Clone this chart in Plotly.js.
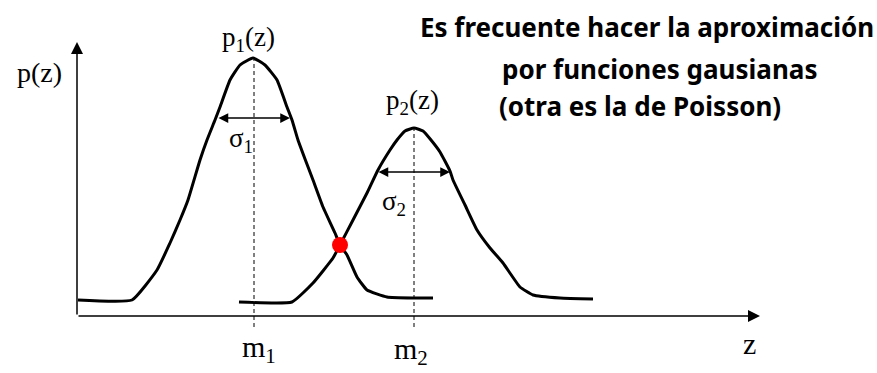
<!DOCTYPE html>
<html>
<head>
<meta charset="utf-8">
<script src="https://cdn.plot.ly/plotly-3.0.1.min.js"></script>
<style>
  html, body { margin: 0; padding: 0; background: #ffffff; }
  #chart { width: 877px; height: 373px; }
</style>
</head>
<body>
<div id="chart"></div>
<script>
// Two class-conditional densities p1(z) and p2(z), sketched as bell curves
// (z measured from the vertical axis, p upward from the horizontal axis).
const z1 = [1, 55, 80, 93, 103, 111, 123, 130, 138, 143, 153, 163, 176, 188, 200, 210, 215, 221, 228, 236, 246, 258, 263, 270, 280, 290, 310, 336, 356];
const p1 = [16, 16, 46, 73, 96, 116, 156, 176, 196, 209, 236, 251, 258, 251, 236, 209, 196, 176, 157, 136, 109, 83, 71, 61, 39, 26, 19, 18, 18];

const z2 = [162, 215, 236, 256, 263, 276, 290, 301, 313, 320, 328, 337, 346, 354, 363, 373, 376, 388, 400, 413, 426, 443, 456, 483, 516];
const p2 = [14, 14, 33, 58, 71, 96, 123, 146, 166, 176, 185, 188, 185, 176, 164, 145, 136, 111, 86, 68, 53, 29, 21, 18, 17];

// Means, peak heights, half-widths and the crossing point of the two curves
const means = [177, 337];
const peaks = [258, 188];
const sigmaLeft = [140, 300];
const sigmaRight = [213, 373];
const sigmaLevel = [198, 144];
const crossing = {z: [263], p: [71]};

// Extent of the drawn axes
const axisZ = [0, 683];
const axisP = [0, 274];

const serif = "Liberation Serif, Times New Roman, serif";
const sans = "Noto Sans, DejaVu Sans, sans-serif";

const curveLine = {color: "#000000", width: 3, shape: "spline", smoothing: 0.4};

const traces = [
  {x: z1, y: p1, type: "scatter", mode: "lines", line: curveLine, hoverinfo: "skip"},
  {x: z2, y: p2, type: "scatter", mode: "lines", line: curveLine, hoverinfo: "skip"},
  {x: crossing.z, y: crossing.p, type: "scatter", mode: "markers",
   marker: {color: "#ff0000", size: 16}, hoverinfo: "skip"}
];

const shapes = means.map((m, i) => ({
  type: "line", xref: "x", yref: "y",
  x0: m, x1: m, y0: -11, y1: peaks[i],
  line: {color: "#000000", width: 1, dash: "4px,3px"}
}));

function arrow(x, y, ax, ay, opts) {
  return Object.assign({
    x: x, y: y, ax: ax, ay: ay, xref: "x", yref: "y", axref: "x", ayref: "y",
    text: "", showarrow: true, arrowhead: 2, arrowcolor: "#000000"
  }, opts);
}

function label(text, x, y, size, family, anchor) {
  return {
    x: x, y: y, xref: "x", yref: "y", text: text, showarrow: false,
    xanchor: anchor || "center", yanchor: "middle",
    font: {family: family, size: size, color: "#000000"}
  };
}

const annotations = [
  // axes
  arrow(axisZ[1], axisP[0], axisZ[0], axisP[0], {arrowwidth: 1.5, arrowsize: 1.6}),
  arrow(axisZ[0], axisP[1], axisZ[0], axisP[0], {arrowwidth: 1.5, arrowsize: 1.6}),
  // sigma widths
  arrow(sigmaRight[0], sigmaLevel[0], sigmaLeft[0], sigmaLevel[0],
        {arrowwidth: 1.5, arrowsize: 1.3, arrowside: "end+start"}),
  arrow(sigmaRight[1], sigmaLevel[1], sigmaLeft[1], sigmaLevel[1],
        {arrowwidth: 1.5, arrowsize: 1.3, arrowside: "end+start"}),
  // symbols
  label("p(z)", -38, 244, 28, serif),
  label("p<sub>1</sub>(z)", 171, 277, 27, serif),
  label("p<sub>2</sub>(z)", 335, 214, 27, serif),
  label("σ<sub>1</sub>", 164, 176, 27, serif),
  label("σ<sub>2</sub>", 317, 113, 27, serif),
  label("m<sub>1</sub>", 182, -33, 30, serif),
  label("m<sub>2</sub>", 334, -35, 30, serif),
  label("z", 672, -27, 30, serif),
  // note
  label("<b>Es frecuente hacer la aproximación</b>", 341, 289, 26, sans, "left"),
  label("<b>por funciones gausianas</b>", 423, 247, 26, sans, "left"),
  label("<b>(otra es la de Poisson)</b>", 420, 210, 26, sans, "left")
];

const layout = {
  width: 877, height: 373,
  margin: {l: 0, r: 0, t: 0, b: 0},
  paper_bgcolor: "#ffffff", plot_bgcolor: "#ffffff",
  showlegend: false,
  xaxis: {range: [-77, 800], visible: false, fixedrange: true},
  yaxis: {range: [-57, 316], visible: false, fixedrange: true},
  shapes: shapes,
  annotations: annotations
};

Plotly.newPlot("chart", traces, layout, {displayModeBar: false, staticPlot: true});
</script>
</body>
</html>
